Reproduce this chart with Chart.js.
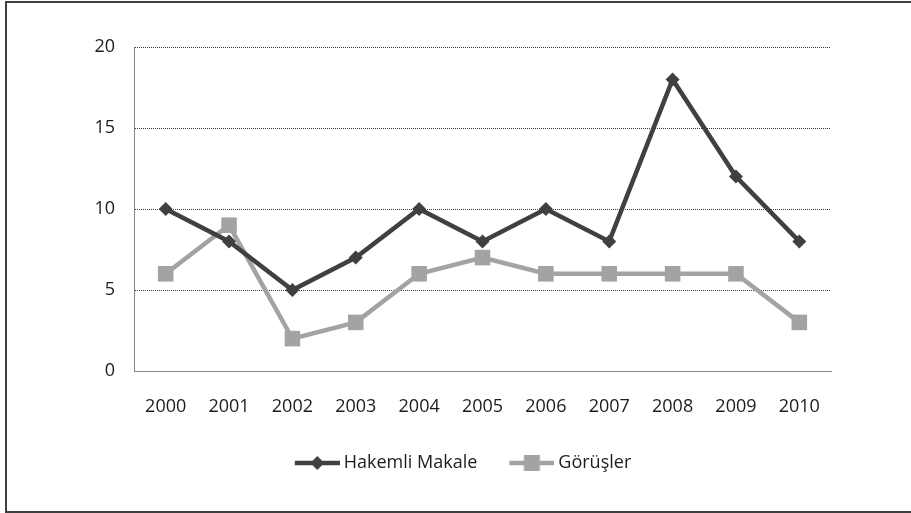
<!DOCTYPE html>
<html><head><meta charset="utf-8">
<script src="https://cdn.jsdelivr.net/npm/chart.js@4"></script>
<style>
html,body{margin:0;padding:0;background:#fff;width:911px;height:513px;overflow:hidden;}
#frame{position:absolute;left:5px;top:1px;width:930px;height:508px;border:2px solid #3f3f3f;border-right:none;}
#wrap{position:absolute;left:0;top:0;width:911px;height:513px;}
</style></head><body>
<div id="frame"></div>
<div id="wrap"><canvas id="c" width="911" height="513"></canvas></div>
<script>
const years = ['2000','2001','2002','2003','2004','2005','2006','2007','2008','2009','2010'];
const hakemliMakale = [10, 8, 5, 7, 10, 8, 10, 8, 18, 12, 8];
const gorusler = [6, 9, 2, 3, 6, 7, 6, 6, 6, 6, 3];
const seriesNames = ['Hakemli Makale', 'Görüşler'];
const yMin = 0, yMax = 20, yStep = 5;

const DARK = '#404040', LIGHT = '#a3a3a3', TEXT = '#1c1c1c';
const FONT = {family: "'Open Sans', sans-serif", size: 18};

function legendIcon(color, kind) {
  const c = document.createElement('canvas');
  c.width = 50; c.height = 20;
  const g = c.getContext('2d');
  g.strokeStyle = color; g.fillStyle = color; g.lineWidth = 4.5;
  g.beginPath(); g.moveTo(5, 10); g.lineTo(50, 10); g.stroke();
  const cx = 27.5, cy = 10;
  g.beginPath();
  if (kind === 'diamond') {
    g.moveTo(cx - 7, cy); g.lineTo(cx, cy - 7); g.lineTo(cx + 7, cy); g.lineTo(cx, cy + 7); g.closePath();
  } else {
    g.rect(cx - 8, cy - 8, 16, 16);
  }
  g.fill();
  return c;
}
const icons = [legendIcon(DARK, 'diamond'), legendIcon(LIGHT, 'square')];

new Chart(document.getElementById('c'), {
  type: 'line',
  data: {
    labels: years,
    datasets: [
      {label: seriesNames[0], data: hakemliMakale, borderColor: DARK, backgroundColor: DARK,
       borderWidth: 4.5, pointStyle: 'rectRot', pointRadius: 7, pointBorderWidth: 0, tension: 0},
      {label: seriesNames[1], data: gorusler, borderColor: LIGHT, backgroundColor: LIGHT,
       borderWidth: 4.5, pointStyle: 'rect', pointRadius: 11, pointBorderWidth: 0, tension: 0}
    ]
  },
  options: {
    responsive: false,
    devicePixelRatio: 1,
    animation: false,
    events: [],
    layout: {padding: {top: 47, left: 95, right: 80, bottom: 31}},
    plugins: {
      tooltip: {enabled: false},
      legend: {
        position: 'bottom',
        labels: {
          usePointStyle: true,
          pointStyleWidth: 40,
          padding: 32,
          color: TEXT,
          font: FONT,
          generateLabels: (chart) => chart.data.datasets.map((ds, i) => ({
            text: ds.label, pointStyle: icons[i], fillStyle: ds.borderColor,
            strokeStyle: ds.borderColor, lineWidth: 0, hidden: false, datasetIndex: i, fontColor: TEXT
          }))
        }
      }
    },
    scales: {
      x: {
        type: 'category',
        offset: true,
        grid: {display: false, drawTicks: false},
        border: {display: true, color: '#868686', width: 1},
        ticks: {color: TEXT, font: FONT, padding: 25, maxRotation: 0, autoSkip: false},
        afterFit: (s) => { s.height = 51; }
      },
      y: {
        min: yMin, max: yMax,
        ticks: {stepSize: yStep, padding: 19, color: TEXT, font: FONT},
        grid: {drawTicks: false, lineWidth: 1,
               color: (ctx) => (ctx.tick && ctx.tick.value === 0) ? 'rgba(0,0,0,0)' : '#383838'},
        border: {display: true, color: '#868686', width: 1, dash: [1, 1]},
        afterFit: (s) => { s.width = 39; }
      }
    }
  }
});
</script>
</body></html>
